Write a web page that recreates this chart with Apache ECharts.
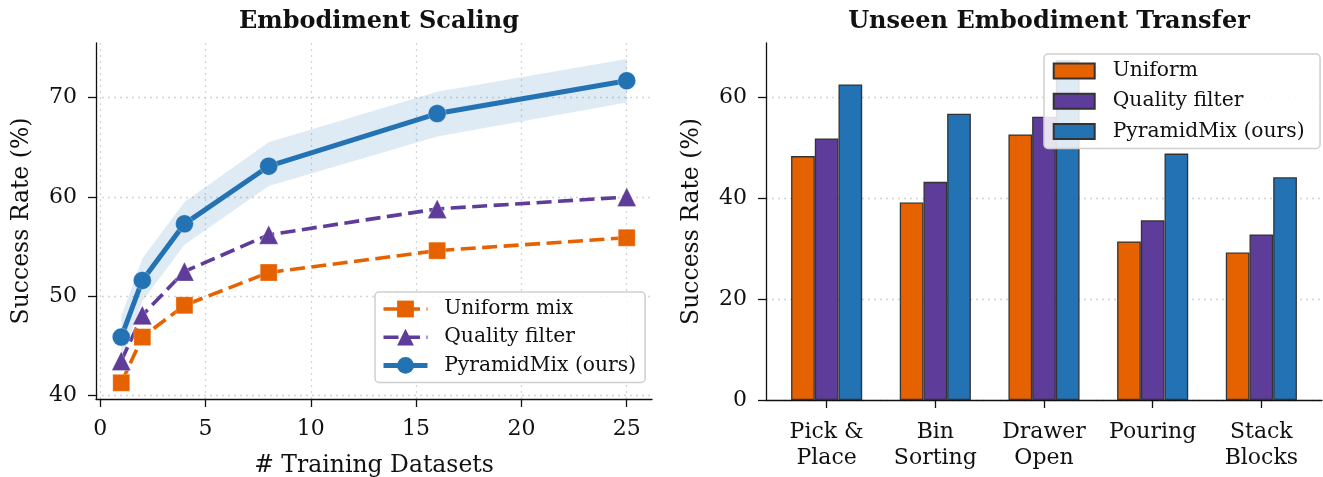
<!DOCTYPE html>
<html>
<head>
<meta charset="utf-8">
<script src="https://cdn.jsdelivr.net/npm/echarts@6/dist/echarts.min.js"></script>
<style>
  html, body { margin: 0; padding: 0; background: #fff; }
  #main { width: 1323px; height: 477px; }
</style>
</head>
<body>
<div id="main"></div>
<script>
// left panel: success rate vs number of training datasets
const datasets = [1, 2, 4, 8, 16, 25];
const uniformMix = [41.3, 45.9, 49.1, 52.4, 54.6, 55.9];
const qualityFilter = [43.5, 48.1, 52.5, 56.2, 58.8, 60.0];
const pyramidMix = [45.9, 51.6, 57.3, 63.1, 68.4, 71.7];
const pyramidLow = [43.6, 49.5, 55.2, 61.1, 66.1, 69.5];
const pyramidHigh = [48.0, 53.8, 59.5, 65.5, 70.6, 73.9];
const xTicks = [0, 5, 10, 15, 20, 25];
const leftYTicks = [40, 50, 60, 70];

// right panel: unseen embodiment transfer
const tasks = ['Pick &\nPlace', 'Bin\nSorting', 'Drawer\nOpen', 'Pouring', 'Stack\nBlocks'];
const taskPos = [0, 1, 2, 3, 4];
const uniformTransfer = [48.3, 39.1, 52.6, 31.4, 29.2];
const qualityTransfer = [51.8, 43.2, 56.1, 35.6, 32.8];
const pyramidTransfer = [62.5, 56.7, 67.3, 48.8, 44.1];
const rightYTicks = [0, 20, 40, 60];

const ORANGE = '#e66100';
const PURPLE = '#5e3c99';
const BLUE = '#2272b4';
const FONT = 'DejaVu Serif';

const pairs = (xs, ys) => xs.map((x, i) => [x, ys[i]]);

const axisLine = { show: true, onZero: false, lineStyle: { color: '#111', width: 1.3 } };
const tick = (vals) => ({ show: true, length: 8, customValues: vals, lineStyle: { color: '#111', width: 1.3 } });
const label = (vals, extra) => Object.assign({ customValues: vals, fontFamily: FONT, fontSize: 22, color: '#111', margin: 19 }, extra || {});
const grid = { show: true, lineStyle: { color: '#d4d4d4', width: 1.3, type: [2, 4] } };
const nameStyle = { fontFamily: FONT, fontSize: 23.5, color: '#111' };
const titleStyle = { fontFamily: FONT, fontSize: 24, fontWeight: 'bold', color: '#111' };
const legendText = { fontFamily: FONT, fontSize: 20.3, color: '#111', lineHeight: 20 };

const chart = echarts.init(document.getElementById('main'));

chart.setOption({
  animation: false,
  backgroundColor: '#fff',
  title: [
    { text: 'Embodiment Scaling', left: 374, top: 5, textAlign: 'center', textStyle: titleStyle },
    { text: 'Unseen Embodiment Transfer', left: 1044, top: 5, textAlign: 'center', textStyle: titleStyle }
  ],
  grid: [
    { left: 96, top: 43, width: 556, height: 356, outerBoundsMode: 'none' },
    { left: 766, top: 43, width: 556, height: 357, outerBoundsMode: 'none' }
  ],
  xAxis: [
    { gridIndex: 0, type: 'value', min: -0.2, max: 26.2,
      axisLine: axisLine, axisTick: tick(xTicks), axisLabel: label(xTicks), splitLine: grid,
      name: '# Training Datasets', nameLocation: 'middle', nameGap: 55, nameTextStyle: nameStyle },
    { gridIndex: 1, type: 'value', min: -0.558, max: 4.558,
      axisLine: axisLine, axisTick: tick(taskPos),
      axisLabel: label(taskPos, { lineHeight: 26, formatter: (v) => tasks[Math.round(v)] || '' }),
      splitLine: { show: false } }
  ],
  yAxis: [
    { gridIndex: 0, type: 'value', min: 39.67, max: 75.5,
      axisLine: axisLine, axisTick: tick(leftYTicks), axisLabel: label(leftYTicks), splitLine: grid,
      name: 'Success Rate (%)', nameLocation: 'middle', nameGap: 62, nameTextStyle: nameStyle },
    { gridIndex: 1, type: 'value', min: 0, max: 70.7,
      axisLine: axisLine, axisTick: tick(rightYTicks), axisLabel: label(rightYTicks), splitLine: grid,
      name: 'Success Rate (%)', nameLocation: 'middle', nameGap: 62, nameTextStyle: nameStyle }
  ],
  legend: [
    { data: ['Uniform mix', 'Quality filter', 'PyramidMix (ours)'],
      orient: 'vertical', left: 375, top: 292, itemWidth: 44, itemHeight: 21, itemGap: 8.2,
      padding: [7, 9, 7, 6], backgroundColor: 'rgba(255,255,255,0.85)',
      borderColor: '#cfcfcf', borderWidth: 1.5, borderRadius: 4,
      lineStyle: { width: 'inherit' },
      itemStyle: { borderWidth: 0 },
      textStyle: Object.assign({ padding: [0, 0, 0, 11.7] }, legendText) },
    { data: ['Uniform', 'Quality filter ', 'PyramidMix (ours) '],
      orient: 'vertical', left: 1044, top: 54, itemWidth: 41, itemHeight: 15, itemGap: 10.2, icon: 'rect',
      padding: [7, 9, 7, 8.7], backgroundColor: 'rgba(255,255,255,0.85)',
      borderColor: '#cfcfcf', borderWidth: 1.5, borderRadius: 4,
      textStyle: Object.assign({ padding: [0, 0, 0, 13] }, legendText) }
  ],
  series: [
    { // shaded band around PyramidMix
      type: 'custom', xAxisIndex: 0, yAxisIndex: 0, silent: true, z: 1,
      data: [[datasets[0], pyramidLow[0]]],
      renderItem: function (params, api) {
        const pts = [];
        datasets.forEach((x, i) => pts.push(api.coord([x, pyramidHigh[i]])));
        for (let i = datasets.length - 1; i >= 0; i--) pts.push(api.coord([datasets[i], pyramidLow[i]]));
        return { type: 'polygon', shape: { points: pts }, style: { fill: BLUE, opacity: 0.15 } };
      }
    },
    { name: 'Uniform mix', type: 'line', xAxisIndex: 0, yAxisIndex: 0, data: pairs(datasets, uniformMix),
      symbol: 'rect', symbolSize: 17, color: ORANGE,
      lineStyle: { width: 3.6, type: [15, 6.5], color: ORANGE },
      itemStyle: { color: ORANGE, borderColor: 'rgba(255,255,255,0.6)', borderWidth: 0.5 } },
    { name: 'Quality filter', type: 'line', xAxisIndex: 0, yAxisIndex: 0, data: pairs(datasets, qualityFilter),
      symbol: 'triangle', symbolSize: 19, color: PURPLE,
      lineStyle: { width: 3.6, type: [15, 6.5], color: PURPLE },
      itemStyle: { color: PURPLE, borderColor: 'rgba(255,255,255,0.6)', borderWidth: 0.5 } },
    { name: 'PyramidMix (ours)', type: 'line', xAxisIndex: 0, yAxisIndex: 0, data: pairs(datasets, pyramidMix),
      symbol: 'circle', symbolSize: 18, color: BLUE,
      lineStyle: { width: 5, color: BLUE },
      itemStyle: { color: BLUE, borderColor: 'rgba(255,255,255,0.6)', borderWidth: 0.5 } },

    { name: 'Uniform', type: 'bar', xAxisIndex: 1, yAxisIndex: 1, data: pairs(taskPos, uniformTransfer),
      barWidth: 23.7, barGap: '0%', color: ORANGE,
      itemStyle: { color: ORANGE, borderColor: '#333', borderWidth: 1.3 } },
    { name: 'Quality filter ', type: 'bar', xAxisIndex: 1, yAxisIndex: 1, data: pairs(taskPos, qualityTransfer),
      barWidth: 23.7, barGap: '0%', color: PURPLE,
      itemStyle: { color: PURPLE, borderColor: '#333', borderWidth: 1.3 } },
    { name: 'PyramidMix (ours) ', type: 'bar', xAxisIndex: 1, yAxisIndex: 1, data: pairs(taskPos, pyramidTransfer),
      barWidth: 23.7, barGap: '0%', color: BLUE,
      itemStyle: { color: BLUE, borderColor: '#333', borderWidth: 1.3 } }
  ]
});
</script>
</body>
</html>
